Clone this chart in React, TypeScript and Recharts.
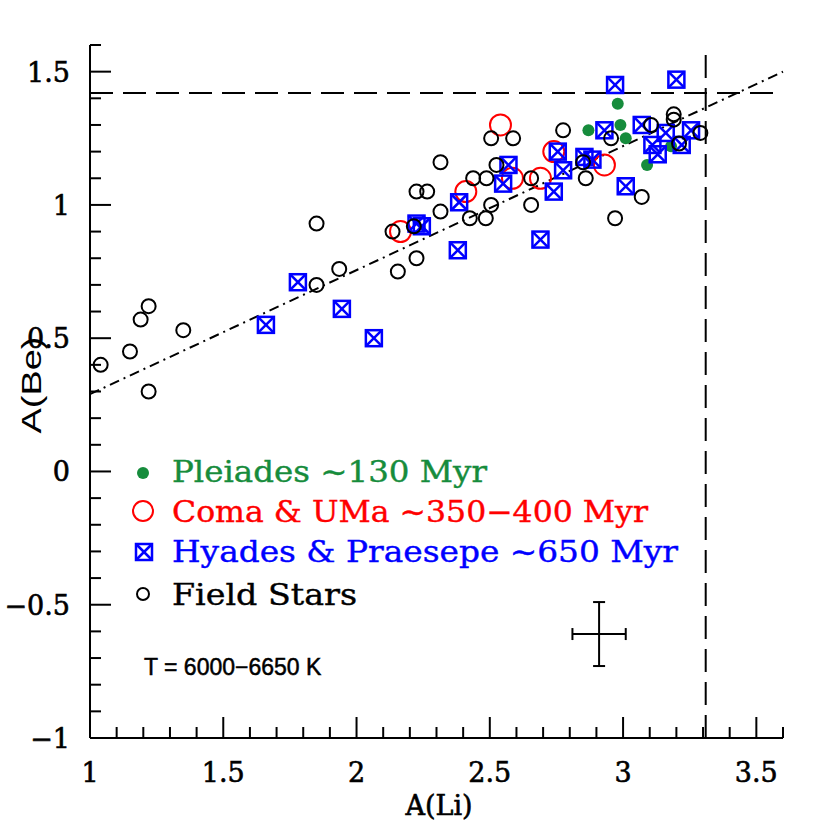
import React from 'react';
import {
  ScatterChart,
  Scatter,
  XAxis,
  YAxis,
  ReferenceLine,
  ErrorBar,
} from 'recharts';

// A(Li) vs A(Be) by cluster, T = 6000-6650 K
const pleiades = [
  { x: 2.87, y: 1.28 }, { x: 2.98, y: 1.38 }, { x: 2.99, y: 1.3 },
  { x: 3.01, y: 1.25 }, { x: 3.09, y: 1.15 }, { x: 3.18, y: 1.22 },
];

const coma = [
  { x: 2.165, y: 0.9 }, { x: 2.41, y: 1.05 }, { x: 2.54, y: 1.3 },
  { x: 2.585, y: 1.1 }, { x: 2.69, y: 1.1 }, { x: 2.74, y: 1.2 },
  { x: 2.93, y: 1.15 },
];

const hyades = [
  { x: 1.66, y: 0.55 }, { x: 1.78, y: 0.71 }, { x: 1.945, y: 0.61 },
  { x: 2.065, y: 0.5 }, { x: 2.225, y: 0.93 }, { x: 2.245, y: 0.92 },
  { x: 2.38, y: 0.83 }, { x: 2.385, y: 1.01 }, { x: 2.55, y: 1.08 },
  { x: 2.57, y: 1.15 }, { x: 2.69, y: 0.87 }, { x: 2.74, y: 1.05 },
  { x: 2.755, y: 1.2 }, { x: 2.775, y: 1.13 }, { x: 2.855, y: 1.18 },
  { x: 2.885, y: 1.17 }, { x: 2.93, y: 1.28 }, { x: 2.97, y: 1.45 },
  { x: 3.01, y: 1.07 }, { x: 3.07, y: 1.3 }, { x: 3.11, y: 1.225 },
  { x: 3.13, y: 1.19 }, { x: 3.16, y: 1.27 }, { x: 3.2, y: 1.47 },
  { x: 3.22, y: 1.225 }, { x: 3.255, y: 1.28 },
];

const field = [
  { x: 1.04, y: 0.4 }, { x: 1.15, y: 0.45 }, { x: 1.19, y: 0.57 },
  { x: 1.22, y: 0.62 }, { x: 1.22, y: 0.3 }, { x: 1.35, y: 0.53 },
  { x: 1.85, y: 0.93 }, { x: 1.85, y: 0.7 }, { x: 1.935, y: 0.76 },
  { x: 2.135, y: 0.9 }, { x: 2.155, y: 0.75 }, { x: 2.215, y: 0.92 },
  { x: 2.225, y: 1.05 }, { x: 2.225, y: 0.8 }, { x: 2.265, y: 1.05 },
  { x: 2.315, y: 1.16 }, { x: 2.315, y: 0.975 }, { x: 2.425, y: 0.95 },
  { x: 2.4375, y: 1.1 }, { x: 2.485, y: 0.95 }, { x: 2.4875, y: 1.1 },
  { x: 2.505, y: 1.25 }, { x: 2.505, y: 1.0 }, { x: 2.525, y: 1.15 },
  { x: 2.5875, y: 1.25 }, { x: 2.655, y: 1.1 }, { x: 2.655, y: 1.0 },
  { x: 2.775, y: 1.28 }, { x: 2.85, y: 1.16 }, { x: 2.86, y: 1.1 },
  { x: 2.955, y: 1.25 }, { x: 2.97, y: 0.95 }, { x: 3.07, y: 1.03 },
  { x: 3.105, y: 1.3 }, { x: 3.19, y: 1.34 }, { x: 3.19, y: 1.32 },
  { x: 3.21, y: 1.23 }, { x: 3.29, y: 1.27 },
];

// typical error bar
const errorPoint = [{ x: 2.91, y: -0.61, ex: 0.1, ey: 0.12 }];

// dash-dot fit and the dashed limits
const fitLine = [{ x: 1, y: 0.29 }, { x: 3.6, y: 1.5 }];
const beLimit = 1.42;
const liLimit = 3.31;

const xDomain = [1, 3.6];
const yDomain = [-1, 1.6];
const xTicks = Array.from({ length: 27 }, (_, i) => +(1 + i * 0.1).toFixed(1));
const yTicks = Array.from({ length: 27 }, (_, i) => +(-1 + i * 0.1).toFixed(1));

const GREEN = '#168c3c';
const RED = '#ff0000';
const BLUE = '#0000ff';
const SERIF = 'DejaVu Serif';
const SANS = 'Liberation Sans';

const isMajor = (v: number) => Math.abs(v * 2 - Math.round(v * 2)) < 1e-6;
const fmt = (v: number) => (v < 0 ? '\u2212' + Math.abs(v) : String(v));
const tickLen = (v: number) => (isMajor(v) ? 21 : 11);

const BottomTick = ({ x, y, payload }: any) => {
  const v = payload.value;
  return (
    <g>
      <line x1={x} y1={y} x2={x} y2={y - tickLen(v)} stroke="#000" strokeWidth={2} />
      {isMajor(v) && (
        <text
          x={x}
          y={y + 44}
          textAnchor="middle"
          fontFamily={SERIF}
          fontSize={27}
          fill="#000"
          stroke="#000"
          strokeWidth={0.6}
        >
          {fmt(v)}
        </text>
      )}
    </g>
  );
};

const TopTick = ({ x, y, payload }: any) => (
  <line x1={x} y1={y} x2={x} y2={y + tickLen(payload.value)} stroke="#000" strokeWidth={2} />
);

const LeftTick = ({ x, y, payload }: any) => {
  const v = payload.value;
  return (
    <g>
      <line x1={x} y1={y} x2={x + tickLen(v)} y2={y} stroke="#000" strokeWidth={2} />
      {isMajor(v) && (
        <text
          x={x - 20}
          y={y + 10}
          textAnchor="end"
          fontFamily={SERIF}
          fontSize={27}
          fill="#000"
          stroke="#000"
          strokeWidth={0.6}
        >
          {fmt(v)}
        </text>
      )}
    </g>
  );
};

const RightTick = ({ x, y, payload }: any) => (
  <line x1={x} y1={y} x2={x - tickLen(payload.value)} y2={y} stroke="#000" strokeWidth={2} />
);

const GreenDot = ({ cx, cy }: any) => <circle cx={cx} cy={cy} r={6} fill={GREEN} />;
const RedRing = ({ cx, cy }: any) => (
  <circle cx={cx} cy={cy} r={10.5} fill="none" stroke={RED} strokeWidth={2} />
);
const BoxX = ({ cx, cy }: any) => {
  const h = 8;
  return (
    <g stroke={BLUE} strokeWidth={2.5} fill="none">
      <rect x={cx - h} y={cy - h} width={2 * h} height={2 * h} />
      <line x1={cx - h} y1={cy - h} x2={cx + h} y2={cy + h} />
      <line x1={cx - h} y1={cy + h} x2={cx + h} y2={cy - h} />
    </g>
  );
};
const BlackRing = ({ cx, cy }: any) => (
  <circle cx={cx} cy={cy} r={7} fill="none" stroke="#000" strokeWidth={2} />
);

const legendRows = [
  { label: 'Pleiades ~130 Myr', color: GREEN, y: 482, len: 315 },
  { label: 'Coma & UMa ~350\u2212400 Myr', color: RED, y: 522, len: 476 },
  { label: 'Hyades & Praesepe ~650 Myr', color: BLUE, y: 562, len: 506 },
  { label: 'Field Stars', color: '#000', y: 605, len: 185 },
];

const tempNote = 'T = 6000\u22126650 K';

const Overlay = () => (
  <svg
    width={830}
    height={830}
    style={{ position: 'absolute', left: 0, top: 0, pointerEvents: 'none' }}
  >
    <circle cx={143} cy={473} r={6} fill={GREEN} />
    <circle cx={143} cy={511} r={10} fill="none" stroke={RED} strokeWidth={2} />
    <g stroke={BLUE} strokeWidth={2.5} fill="none">
      <rect x={136} y={544} width={16} height={16} />
      <line x1={136} y1={544} x2={152} y2={560} />
      <line x1={136} y1={560} x2={152} y2={544} />
    </g>
    <circle cx={143} cy={594} r={6} fill="none" stroke="#000" strokeWidth={2} />
    {legendRows.map((r) => (
      <text
        key={r.label}
        x={172}
        y={r.y}
        fill={r.color}
        stroke={r.color}
        strokeWidth={0.4}
        fontFamily={SERIF}
        fontSize={30}
        textLength={r.len}
        lengthAdjust="spacingAndGlyphs"
      >
        {r.label}
      </text>
    ))}
    <text x={144} y={675} fontFamily={SANS} fontSize={23} fill="#000" stroke="#000" strokeWidth={0.5}>
      {tempNote}
    </text>
    <text
      x={439}
      y={815}
      textAnchor="middle"
      fontFamily={SERIF}
      fontSize={27}
      fill="#000"
      stroke="#000"
      strokeWidth={0.6}
    >
      A(Li)
    </text>
    <text
      x={41}
      y={385}
      transform="rotate(-90 41 385)"
      textAnchor="middle"
      fontFamily={SANS}
      fontSize={27}
      textLength={97}
      lengthAdjust="spacingAndGlyphs"
    >
      A(Be)
    </text>
  </svg>
);

export default function App() {
  return (
    <div style={{ position: 'absolute', left: 0, top: 0, width: 830, height: 830, background: '#fff' }}>
      <ScatterChart width={830} height={830} margin={{ top: 45, right: 47, bottom: 0, left: 0 }}>
        <XAxis
          type="number"
          dataKey="x"
          domain={xDomain}
          ticks={xTicks}
          interval={0}
          height={92}
          tickSize={0}
          tickMargin={0}
          tick={<BottomTick />}
          axisLine={{ stroke: '#000', strokeWidth: 2 }}
          allowDataOverflow
        />
        <XAxis
          xAxisId="top"
          orientation="top"
          type="number"
          dataKey="x"
          domain={xDomain}
          ticks={xTicks}
          interval={0}
          height={0}
          tickSize={0}
          tickMargin={0}
          tick={<TopTick />}
          axisLine={{ stroke: '#000', strokeWidth: 2 }}
          allowDataOverflow
        />
        <YAxis
          type="number"
          dataKey="y"
          domain={yDomain}
          ticks={yTicks}
          interval={0}
          width={90}
          tickSize={0}
          tickMargin={0}
          tick={<LeftTick />}
          axisLine={{ stroke: '#000', strokeWidth: 2 }}
          allowDataOverflow
        />
        <YAxis
          yAxisId="right"
          orientation="right"
          type="number"
          dataKey="y"
          domain={yDomain}
          ticks={yTicks}
          interval={0}
          width={0}
          tickSize={0}
          tickMargin={0}
          tick={<RightTick />}
          axisLine={{ stroke: '#000', strokeWidth: 2 }}
          allowDataOverflow
        />
        <ReferenceLine y={beLimit} stroke="#000" strokeWidth={2} strokeDasharray="23 10" />
        <ReferenceLine x={liLimit} stroke="#000" strokeWidth={2} strokeDasharray="23 10" />
        <ReferenceLine segment={fitLine} stroke="#000" strokeWidth={2} strokeDasharray="10 5 2 5" />
        <Scatter data={pleiades} shape={<GreenDot />} isAnimationActive={false} />
        <Scatter data={coma} shape={<RedRing />} isAnimationActive={false} />
        <Scatter data={hyades} shape={<BoxX />} isAnimationActive={false} />
        <Scatter data={field} shape={<BlackRing />} isAnimationActive={false} />
        <Scatter data={errorPoint} shape={() => <g />} isAnimationActive={false}>
          <ErrorBar dataKey="ex" direction="x" width={6} stroke="#000" strokeWidth={2} />
          <ErrorBar dataKey="ey" direction="y" width={6} stroke="#000" strokeWidth={2} />
        </Scatter>
      </ScatterChart>
      <Overlay />
    </div>
  );
}
